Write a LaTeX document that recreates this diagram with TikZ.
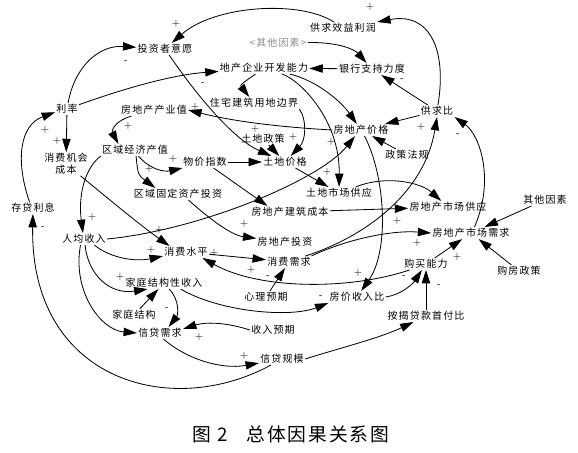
\documentclass[tikz,border=0pt]{standalone}
\usepackage{fontspec}
\newfontfamily\cjkfont[LetterSpace=12]{Noto Sans CJK SC}
\newfontfamily\capfont[LetterSpace=10]{Noto Sans CJK SC}
\usepackage{tikz}
\usetikzlibrary{arrows.meta}

\begin{document}
\begin{tikzpicture}[
    x=0.03cm, y=-0.03cm,
    % --- node styles ---
    vbl/.style={font=\cjkfont\fontsize{8.5}{10}\selectfont, inner sep=1pt, align=center},
    ghost/.style={vbl, text=black!45},
    sgn/.style={font=\fontsize{9}{9}\selectfont, inner sep=0pt},
    capt/.style={font=\capfont\fontsize{16}{18}\selectfont},
    % --- arrow style ---
    arr/.style={-{Triangle[length=4mm, width=2.5mm]}, line width=0.7pt}
]
\useasboundingbox (0,0) rectangle (578,453);

%%% ================= TOP: INVESTMENT / DEVELOPERS =================
\node[vbl] (gqxy)  at (343,28)  {供求效益利润};
\node[vbl] (tzyy)  at (165,49)  {投资者意愿};
\node[ghost] (qtys1) at (278,43) {<其他因素>};
\node[vbl] (kfnl)  at (264,68)  {地产企业开发能力};
\node[vbl] (yhzc)  at (372,69)  {银行支持力度};
\node[vbl] (lilv)  at (67,109)  {利率};
\node[vbl] (ydbj)  at (254,103) {住宅建筑用地边界};
\node[vbl] (cyz)   at (154,110) {房地产产业值};
\node[vbl] (gqb)   at (437,111) {供求比};
\node[vbl] (fjg)   at (361,130) {房地产价格};

%%% ================= MIDDLE: LAND / REGIONAL ECONOMY =================
\node[vbl] (tdzc)  at (263,139) {土地政策};
\node[vbl] (xfjh)  at (66,164)  {消费机会\\成本};
\node[vbl] (qyjj)  at (135,150) {区域经济产值};
\node[vbl] (wjzs)  at (205,162) {物价指数};
\node[vbl] (tdjg)  at (285,162) {土地价格};
\node[vbl] (zcfg)  at (407,155) {政策法规};
\node[vbl] (tdgy)  at (339,193) {土地市场供应};
\node[vbl] (gdzc)  at (178,194) {区域固定资产投资};
\node[vbl] (cdlx)  at (33,208)  {存贷利息};
\node[vbl] (jzcb)  at (290,212) {房地产建筑成本};
\node[vbl] (scgy)  at (448,207) {房地产市场供应};
\node[vbl] (qtys2) at (545,200) {其他因素};

%%% ================= LOWER: INCOME / DEMAND =================
\node[vbl] (rjsr)  at (84,239)  {人均收入};
\node[vbl] (xfsp)  at (186,252) {消费水平};
\node[vbl] (fdctz) at (285,242) {房地产投资};
\node[vbl] (scxq)  at (471,233) {房地产市场需求};
\node[vbl] (xfxq)  at (289,262) {消费需求};
\node[vbl] (gmnl)  at (426,264) {购买能力};
\node[vbl] (gfzc)  at (519,271) {购房政策};
\node[vbl] (jtsr)  at (164,283) {家庭结构性收入};
\node[vbl] (xlyq)  at (266,297) {心理预期};
\node[vbl] (fjsrb) at (357,297) {房价收入比};
\node[vbl] (jtjg)  at (134,315) {家庭结构};
\node[vbl] (ajsf)  at (426,316) {按揭贷款首付比};
\node[vbl] (xdxq)  at (160,333) {信贷需求};
\node[vbl] (sryq)  at (273,330) {收入预期};
\node[vbl] (xdgm)  at (282,359) {信贷规模};

\node[capt] (caption) at (291,434) {图 2\quad 总体因果关系图};

%%% ================= ARROWS =================
%% top loops
\draw[arr] (gqxy) .. controls (300,0) and (215,5) .. (tzyy);
\draw[arr] (gqb) .. controls (447,50) and (430,12) .. (gqxy.north east);
\draw[arr] (qtys1) .. controls (340,42) and (355,50) .. (yhzc);
\draw[arr] (yhzc) -- (kfnl);
\draw[arr] (gqb) -- (yhzc);
\draw[arr] (lilv) .. controls (75,65) and (100,45) .. (tzyy);
\draw[arr] (lilv) .. controls (120,90) and (170,75) .. (kfnl);
\draw[arr] (kfnl) .. controls (240,85) .. (ydbj);
\draw[arr] (kfnl) .. controls (315,80) and (340,100) .. (fjg);
\draw[arr] (kfnl) .. controls (300,80) and (340,120) .. (tdgy);

%% land price
\draw[arr] (tzyy) .. controls (200,100) and (235,140) .. (tdjg);
\draw[arr] (tdzc) -- (tdjg);
\draw[arr] (ydbj.south east) .. controls (307,120) and (306,140) .. (tdjg);
\draw[arr] (wjzs) -- (tdjg);
\draw[arr] (tdjg) -- (tdgy);

%% regional economy
\draw[arr] (fjg.west) .. controls (260,126) and (220,118) .. (cyz.east);
\draw[arr] (cyz.195) .. controls (112,122) and (112,132) .. (qyjj.160);
\draw[arr] (qyjj.300) .. controls (150,170) and (165,172) .. (wjzs.195);
\draw[arr] (qyjj.280) .. controls (138,175) .. (gdzc.165);
\draw[arr] (qyjj.190) .. controls (85,168) and (78,195) .. (rjsr.100);
\draw[arr] (lilv) -- (xfjh);
\draw[arr] (cdlx.120) .. controls (15,160) and (20,125) .. (lilv.195);
\draw[arr] (xfjh) .. controls (110,200) and (140,225) .. (xfsp.160);
\draw[arr] (gdzc.330) .. controls (205,215) and (230,235) .. (fdctz);
\draw[arr] (wjzs) -- (jzcb.165);
\draw[arr] (jzcb) -- (scgy);
\draw[arr] (tdgy.20) .. controls (385,175) and (420,182) .. (scgy);

%% income
\draw[arr] (rjsr.east) .. controls (200,230) and (320,180) .. (fjg.225);
\draw[arr] (rjsr.330) .. controls (110,258) and (135,262) .. (xfsp.190);
\draw[arr] (rjsr.280) .. controls (88,275) and (110,295) .. (jtsr.200);
\draw[arr] (rjsr.240) .. controls (72,290) and (100,330) .. (xdxq.west);
\draw[arr] (jtjg) -- (jtsr);
\draw[arr] (jtsr.310) .. controls (180,300) and (178,315) .. (xdxq.35);
\draw[arr] (jtsr.340) .. controls (220,312) and (290,318) .. (fjsrb.south west);
\draw[arr] (sryq.west) .. controls (225,322) and (205,322) .. (xdxq.10);

%% credit
\draw[arr] (xdxq.300) .. controls (185,358) and (220,370) .. (xdgm.190);
\draw[arr] (xdgm) .. controls (170,420) and (30,380) .. (cdlx);
\draw[arr] (xdgm.east) .. controls (340,348) and (380,338) .. (ajsf);
\draw[arr] (ajsf) -- (gmnl);
\draw[arr] (fjsrb.east) .. controls (400,295) and (412,285) .. (gmnl.235);

%% market
\draw[arr] (gmnl) -- (scxq);
\draw[arr] (gfzc) -- (scxq);
\draw[arr] (qtys2) -- (scxq);
\draw[arr] (scxq.60) .. controls (495,180) and (480,135) .. (gqb.south east);
\draw[arr] (xfxq.20) .. controls (370,235) and (425,190) .. (gqb.south);
\draw[arr] (xfxq.15) .. controls (345,240) and (390,230) .. (scxq.west);
\draw[arr] (fjg.300) .. controls (385,175) and (390,250) .. (fjsrb);
\draw[arr] (gqb) -- (fjg);
\draw[arr] (zcfg) -- (fjg);
\draw[arr] (xfsp) -- (xfxq);
\draw[arr] (gmnl.200) .. controls (350,290) and (260,290) .. (xfsp.340);
\draw[arr] (xlyq) -- (xfxq);

%%% ================= POLARITIES =================
\foreach \px/\py/\s [count=\i] in {
    176/24/+, 370/7/+, 402/80/-, 126/62/-, 203/84/-, 195/107/+,
    128/126/+, 45/130/+, 57/141/+, 173/159/+, 149/169/+, 255/129/+,
    293/137/+, 327/172/+, 331/142/+, 421/127/+, 458/135/-, 92/217/+,
    159/230/+, 151/250/+, 214/253/+, 244/224/+, 258/200/+, 397/221/+,
    417/243/+, 457/257/+, 358/273/+, 251/270/+, 268/277/-, 404/277/-,
    439/286/-, 321/297/-, 120/277/+, 167/309/-, 199/337/+, 244/356/+,
    43/228/-}
    \node[sgn] (sg\i) at (\px,\py) {\s};

\end{tikzpicture}
\end{document}
